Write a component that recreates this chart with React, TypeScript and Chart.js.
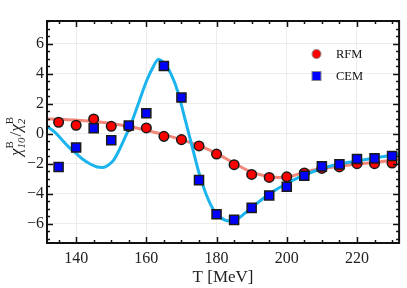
import React, { useEffect, useRef } from "react";
import { Chart, registerables } from "chart.js";

Chart.register(...registerables);

const temps = [135, 140, 145, 150, 155, 160, 165, 170, 175, 180, 185, 190, 195, 200, 205, 210, 215, 220, 225, 230];
const rfmValues = [0.78, 0.58, 1.0, 0.51, 0.5, 0.4, -0.16, -0.38, -0.8, -1.34, -2.05, -2.7, -2.9, -2.86, -2.6, -2.3, -2.2, -1.98, -1.98, -1.94];
const cemValues = [-2.2, -0.9, 0.38, -0.42, 0.56, 1.38, 4.53, 2.43, -3.08, -5.35, -5.73, -4.93, -4.1, -3.52, -2.79, -2.16, -2.03, -1.67, -1.63, -1.47];

const rfmCurveT = [131.7, 135, 140, 145, 150, 155, 160, 165, 170, 175, 180, 185, 190, 195, 198, 201, 205, 210, 215, 220, 225, 230, 232];
const rfmCurveV = [1.0, 0.97, 0.92, 0.83, 0.7, 0.5, 0.25, -0.05, -0.38, -0.78, -1.3, -1.95, -2.55, -2.85, -2.9, -2.84, -2.55, -2.3, -2.15, -2.0, -1.9, -1.75, -1.7];

const cemCurveT = [131.7, 134, 136, 138, 140, 142, 144, 146, 147.6, 149, 150.5, 152, 154, 156, 158, 160, 162, 163.4, 165, 167, 169, 171, 173, 175, 177, 179, 181, 183.7, 186, 188, 190, 193, 196, 200, 203, 206, 210, 215, 220, 225, 230, 232];
const cemCurveV = [0.5, 0.1, -0.4, -0.9, -1.3, -1.7, -2.0, -2.2, -2.23, -2.1, -1.8, -1.2, -0.2, 0.9, 2.2, 3.5, 4.5, 4.97, 4.75, 4.0, 2.8, 1.0, -0.8, -2.6, -4.0, -5.0, -5.55, -5.8, -5.65, -5.3, -4.9, -4.35, -3.85, -3.3, -2.95, -2.65, -2.3, -2.0, -1.8, -1.6, -1.4, -1.3];

const xTicks = [140, 160, 180, 200, 220];
const yTicks = [-6, -4, -2, 0, 2, 4, 6];
const legendLabels = ["RFM", "CEM"];

const serif = "'Liberation Serif', 'DejaVu Serif', serif";

const framePlugin = {
  id: "framePlugin",
  afterDraw(chart: any) {
    const { ctx, chartArea: a, scales } = chart;
    const xs = scales.x;
    const ys = scales.y;
    ctx.save();
    ctx.strokeStyle = "#111";
    ctx.lineWidth = 1.5;
    const drawX = (v: number, len: number) => {
      const px = Math.round(xs.getPixelForValue(v)) + 0.5;
      ctx.beginPath();
      ctx.moveTo(px, a.bottom);
      ctx.lineTo(px, a.bottom - len);
      ctx.moveTo(px, a.top);
      ctx.lineTo(px, a.top + len);
      ctx.stroke();
    };
    const drawY = (v: number, len: number) => {
      const py = Math.round(ys.getPixelForValue(v)) + 0.5;
      ctx.beginPath();
      ctx.moveTo(a.left, py);
      ctx.lineTo(a.left + len, py);
      ctx.moveTo(a.right, py);
      ctx.lineTo(a.right - len, py);
      ctx.stroke();
    };
    for (let t = 135; t <= 230; t += 5) {
      drawX(t, t % 20 === 0 ? 6 : 3);
    }
    for (let k = -14; k <= 15; k++) {
      const v = k / 2;
      if (v < ys.min || v > ys.max) continue;
      drawY(v, k % 4 === 0 ? 6 : 3);
    }
    ctx.lineWidth = 2;
    ctx.strokeRect(a.left, a.top, a.right - a.left, a.bottom - a.top);

    // legend
    const lx = 316.5;
    const tx = 336;
    const rows = [54, 76];
    ctx.lineWidth = 1;
    ctx.strokeStyle = "#888";
    ctx.fillStyle = "#ff0000";
    ctx.beginPath();
    ctx.arc(lx, rows[0], 4.5, 0, Math.PI * 2);
    ctx.fill();
    ctx.stroke();
    ctx.fillStyle = "#0000ff";
    ctx.fillRect(lx - 4.5, rows[1] - 4.5, 9, 9);
    ctx.strokeRect(lx - 4.5, rows[1] - 4.5, 9, 9);
    ctx.fillStyle = "#111";
    ctx.font = `12.5px ${serif}`;
    ctx.textBaseline = "middle";
    ctx.textAlign = "left";
    ctx.fillText(legendLabels[0], tx, rows[0] + 1);
    ctx.fillText(legendLabels[1], tx, rows[1] + 1);

    // y title
    ctx.translate(21, 136);
    ctx.rotate(-Math.PI / 2);
    const big = `italic 17px ${serif}`;
    const bigR = `17px ${serif}`;
    const supF = `11px ${serif}`;
    const subF = `italic 11px ${serif}`;
    const parts: any[] = [
      { t: "χ", f: big },
      { sup: "B", sub: "10" },
      { t: "/", f: bigR },
      { t: "χ", f: big },
      { sup: "B", sub: "2" },
    ];
    let total = 0;
    const widths: number[] = [];
    for (const p of parts) {
      let w = 0;
      if (p.t) {
        ctx.font = p.f;
        w = ctx.measureText(p.t).width;
      } else {
        ctx.font = supF;
        const w1 = ctx.measureText(p.sup).width;
        ctx.font = subF;
        const w2 = ctx.measureText(p.sub).width;
        w = Math.max(w1, w2) + 1;
      }
      widths.push(w);
      total += w;
    }
    let x = -total / 2;
    ctx.textBaseline = "alphabetic";
    ctx.fillStyle = "#222";
    parts.forEach((p, i) => {
      if (p.t) {
        ctx.font = p.f;
        ctx.fillText(p.t, x, 0);
      } else {
        ctx.font = supF;
        ctx.fillText(p.sup, x, -8);
        ctx.font = subF;
        ctx.fillText(p.sub, x, 4);
      }
      x += widths[i];
    });
    ctx.restore();
  },
};

export default function App() {
  const ref = useRef<HTMLCanvasElement | null>(null);
  useEffect(() => {
    document.body.style.margin = "0";
    const canvas = ref.current!;
    const chart = new Chart(canvas, {
      type: "scatter",
      data: {
        datasets: [
          {
            label: "RFM curve",
            data: rfmCurveT.map((t, i) => ({ x: t, y: rfmCurveV[i] })),
            showLine: true,
            borderColor: "#f2877a",
            borderWidth: 3,
            pointRadius: 0,
            cubicInterpolationMode: "monotone",
            order: 3,
          },
          {
            label: "CEM curve",
            data: cemCurveT.map((t, i) => ({ x: t, y: cemCurveV[i] })),
            showLine: true,
            borderColor: "#1cb4ee",
            borderWidth: 3,
            pointRadius: 0,
            cubicInterpolationMode: "monotone",
            order: 2,
          },
          {
            label: legendLabels[0],
            data: temps.map((t, i) => ({ x: t, y: rfmValues[i] })),
            pointStyle: "circle",
            pointRadius: 4.8,
            backgroundColor: "#ff0000",
            borderColor: "#1a1a1a",
            borderWidth: 1.5,
            order: 1,
          },
          {
            label: legendLabels[1],
            data: temps.map((t, i) => ({ x: t, y: cemValues[i] })),
            pointStyle: "rect",
            pointRadius: 6.4,
            backgroundColor: "#0000ff",
            borderColor: "#1a1a1a",
            borderWidth: 1.5,
            order: 0,
          },
        ],
      },
      options: {
        animation: false,
        responsive: false,
        layout: { padding: { left: 0, top: 21, right: 3, bottom: 0 } },
        plugins: { legend: { display: false }, tooltip: { enabled: false } },
        scales: {
          x: {
            type: "linear",
            min: 131.7,
            max: 232,
            afterBuildTicks: (s: any) => {
              s.ticks = xTicks.map((v) => ({ value: v }));
            },
            afterFit: (s: any) => {
              s.height = 45;
            },
            grid: { color: "#ececec", lineWidth: 1, drawTicks: false },
            border: { display: false },
            ticks: {
              padding: 6,
              color: "#222",
              font: { family: serif, size: 16 },
              callback: (v: any) => String(v),
            },
            title: {
              display: true,
              text: "T [MeV]",
              color: "#222",
              font: { family: serif, size: 17 },
              padding: { top: 0, bottom: 0 },
            },
          },
          y: {
            type: "linear",
            min: -7.27,
            max: 7.53,
            afterBuildTicks: (s: any) => {
              s.ticks = yTicks.map((v) => ({ value: v }));
            },
            afterFit: (s: any) => {
              s.width = 47;
            },
            grid: { color: "#ececec", lineWidth: 1, drawTicks: false },
            border: { display: false },
            ticks: {
              padding: 3,
              color: "#222",
              font: { family: serif, size: 16 },
              callback: (v: any) => (v < 0 ? "\u2212" + Math.abs(v) : String(v)),
            },
          },
        },
      },
      plugins: [framePlugin],
    } as any);
    return () => chart.destroy();
  }, []);
  return (
    <div style={{ width: 407, height: 288 }}>
      <canvas ref={ref} width={407} height={288} style={{ width: 407, height: 288, display: "block" }} />
    </div>
  );
}
